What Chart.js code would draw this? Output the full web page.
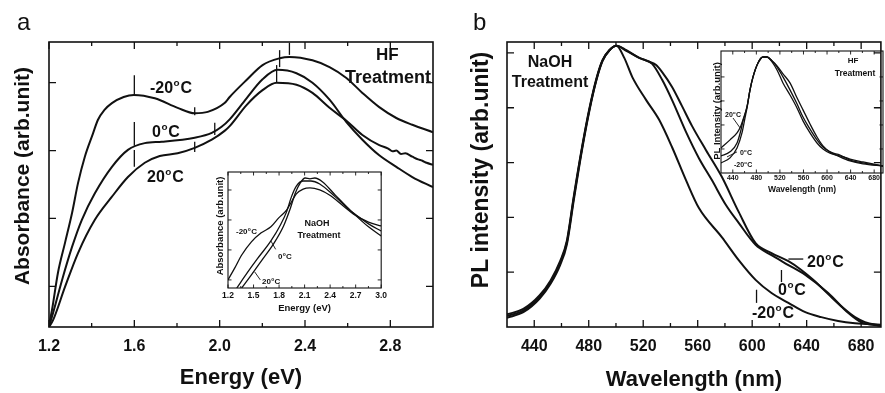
<!DOCTYPE html>
<html><head><meta charset="utf-8">
<script src="https://cdn.jsdelivr.net/npm/chart.js@4.4.1/dist/chart.umd.min.js"></script>
<style>
html,body{margin:0;padding:0;background:#fff;}
#wrap{position:relative;width:885px;height:393px;overflow:hidden;background:#fff;}
canvas{position:absolute;}
</style></head><body>
<div id="wrap">
<canvas id="ca" width="442" height="393" style="left:0;top:0;width:442px;height:393px"></canvas>
<canvas id="cb" width="443" height="393" style="left:442px;top:0;width:443px;height:393px"></canvas>
<canvas id="cia" width="185" height="150" style="left:205px;top:165px;width:185px;height:150px"></canvas>
<canvas id="cib" width="190" height="158" style="left:695px;top:44px;width:190px;height:158px"></canvas>
</div>
<script>
// ---------- Panel a : absorbance vs energy (HF treatment) ----------
const absEnergyTicks = [1.2, 1.6, 2.0, 2.4, 2.8];
const absEnergyMinor = [1.4, 1.8, 2.2, 2.6];
const absYTicks = [0.6, 1.6, 2.6, 3.6];
const absHF_m20 = [[1.200,0.03],[1.214,0.25],[1.242,0.80],[1.275,1.24],[1.308,1.68],[1.336,2.12],[1.368,2.51],[1.406,2.85],[1.429,3.05],[1.460,3.20],[1.495,3.30],[1.550,3.39],[1.598,3.42],[1.696,3.37],[1.803,3.23],[1.883,3.15],[1.944,3.17],[2.023,3.30],[2.047,3.39],[2.126,3.64],[2.201,3.86],[2.281,3.96],[2.327,3.98],[2.435,3.93],[2.515,3.83],[2.594,3.67],[2.669,3.45],[2.748,3.24],[2.828,3.08],[2.903,2.98],[3.000,2.87]];
const absHF_0 = [[1.200,0.01],[1.214,0.15],[1.261,0.69],[1.308,1.18],[1.354,1.58],[1.415,1.97],[1.495,2.36],[1.570,2.61],[1.649,2.71],[1.729,2.73],[1.883,2.79],[1.963,2.86],[2.009,2.95],[2.047,3.06],[2.126,3.37],[2.201,3.65],[2.271,3.79],[2.360,3.74],[2.435,3.60],[2.515,3.35],[2.594,3.02],[2.669,2.76],[2.748,2.53],[2.828,2.36],[2.903,2.21],[3.000,2.06]];
const absHF_20 = [[1.200,0.00],[1.219,0.10],[1.275,0.59],[1.336,1.09],[1.415,1.58],[1.495,1.92],[1.570,2.21],[1.649,2.42],[1.719,2.52],[1.803,2.56],[1.883,2.64],[1.963,2.76],[2.023,2.89],[2.047,2.96],[2.126,3.27],[2.201,3.49],[2.267,3.60],[2.360,3.57],[2.435,3.45],[2.515,3.23],[2.594,3.04],[2.669,2.83],[2.748,2.68],[2.790,2.63],[2.810,2.59],[2.828,2.60],[2.850,2.55],[2.870,2.56],[2.903,2.51],[2.930,2.47],[2.950,2.45],[2.970,2.42],[3.000,2.39]];
// peak / valley marker strokes: [energy, y from, y to]
const absMarkers = [[1.6,3.42,3.71],[1.6,2.67,3.02],[1.6,2.36,2.61],[1.883,3.12,3.24],[1.883,2.58,2.73],[1.977,2.83,3.01],[2.281,3.83,4.08],[2.267,3.61,3.86],[2.327,4.01,4.19]];

// ---------- Panel b : PL intensity vs wavelength (NaOH treatment) ----------
const plWaveTicks = [440, 480, 520, 560, 600, 640, 680];
const plWaveMinor = [460, 500, 540, 580, 620, 660];
const plYTicks = [1, 2, 3, 4, 5];
const plNaOH_m20 = [[420.0,0.23],[432.0,0.33],[444.0,0.58],[452.0,0.85],[459.0,1.20],[464.0,1.58],[469.0,2.38],[475.0,3.27],[480.6,4.00],[485.7,4.54],[490.1,4.87],[495.2,5.05],[500.3,5.13],[506.1,4.91],[512.0,4.56],[522.2,4.14],[531.7,3.78],[541.2,3.28],[551.4,2.68],[560.9,2.17],[577.7,1.64],[590.1,1.22],[602.5,0.86],[614.2,0.62],[626.6,0.44],[639.0,0.27],[650.7,0.18],[663.1,0.11],[675.5,0.07],[694.5,0.04]];
const plNaOH_0 = [[420.0,0.20],[432.0,0.30],[444.0,0.55],[452.0,0.82],[459.0,1.17],[464.0,1.55],[469.0,2.35],[475.0,3.25],[480.6,3.98],[485.7,4.52],[490.1,4.86],[495.2,5.05],[500.3,5.13],[507.6,5.04],[517.1,4.91],[526.6,4.80],[533.9,4.51],[541.2,4.14],[551.4,3.56],[560.9,3.08],[570.4,2.68],[580.6,2.23],[590.1,1.90],[602.5,1.50],[614.2,1.31],[626.6,1.13],[639.0,0.95],[655.8,0.62],[670.4,0.26],[679.9,0.09],[694.5,0.02]];
const plNaOH_20 = [[420.0,0.17],[432.0,0.27],[444.0,0.52],[452.0,0.79],[459.0,1.13],[464.0,1.51],[469.0,2.31],[475.0,3.22],[480.6,3.96],[485.7,4.51],[490.1,4.85],[495.2,5.05],[500.3,5.13],[507.6,5.05],[517.1,4.91],[524.4,4.84],[529.5,4.78],[533.9,4.65],[541.2,4.38],[548.5,4.03],[555.8,3.67],[566.0,3.23],[577.7,2.74],[590.1,2.10],[602.5,1.53],[614.2,1.35],[626.6,1.20],[636.1,1.04],[644.8,0.86],[655.8,0.60],[666.7,0.35],[675.5,0.18],[682.8,0.09],[694.5,0.02]];
// label leader strokes: [[x1,y1],[x2,y2]]
const plLeaders = [[[626.6,1.24],[637.5,1.24]],[[621.5,0.82],[621.5,1.04]],[[603.2,0.44],[603.2,0.68]]];

// ---------- Inset of a : absorbance (NaOH treatment) ----------
const insEnergyTicks = [1.2, 1.5, 1.8, 2.1, 2.4, 2.7, 3.0];
const insEnergyMinor = [1.35, 1.65, 1.95, 2.25, 2.55, 2.85];
const insAbsYTicks = [0, 1, 2, 3];
const insNaOH_m20 = [[1.200,0.00],[1.280,0.40],[1.361,0.83],[1.475,1.27],[1.590,1.57],[1.704,1.77],[1.796,2.07],[1.888,2.33],[1.945,2.60],[2.003,2.87],[2.083,3.03],[2.163,3.07],[2.278,3.00],[2.392,2.83],[2.541,2.50],[2.690,2.17],[2.851,1.93],[3.000,1.80]];
const insNaOH_0 = [[1.303,-0.27],[1.429,0.25],[1.544,0.70],[1.704,1.30],[1.819,1.85],[1.888,2.27],[1.945,2.77],[2.003,3.13],[2.083,3.30],[2.175,3.30],[2.278,3.20],[2.461,2.77],[2.656,2.27],[2.851,1.87],[3.000,1.63]];
const insNaOH_20 = [[1.361,-0.27],[1.475,0.17],[1.601,0.67],[1.739,1.22],[1.853,1.80],[1.934,2.40],[1.991,2.90],[2.048,3.23],[2.106,3.40],[2.163,3.37],[2.220,3.40],[2.312,3.27],[2.461,2.83],[2.656,2.27],[2.851,1.77],[3.000,1.47]];
const insAbsLeaders = [[[1.704,1.30],[1.76,1.02]],[[1.513,0.27],[1.58,0.0]]];

// ---------- Inset of b : PL intensity (HF treatment) ----------
const insWaveTicks = [440, 480, 520, 560, 600, 640, 680];
const insWaveMinor = [460, 500, 540, 580, 620, 660];
const insPLYTicks = [1, 2, 3, 4];
const insHF_20 = [[420,1.04],[435.3,1.38],[447.2,1.67],[452.3,1.88],[457.3,2.21],[464.1,2.75],[469.2,3.46],[474.3,4.00],[482.8,4.58],[491.3,4.83],[498.1,4.83],[506.6,4.67],[515.1,4.46],[525.2,4.13],[537.1,3.75],[549.0,3.13],[559.2,2.63],[571.1,2.04],[583.0,1.50],[593.1,1.13],[605.0,0.88],[622.0,0.75],[639.0,0.54],[661.0,0.42],[695.0,0.29]];
const insHF_0 = [[420,0.71],[435.3,0.88],[447.2,1.25],[453.9,1.79],[457.3,2.17],[464.1,2.75],[469.2,3.46],[474.3,4.00],[482.8,4.58],[491.3,4.83],[498.1,4.83],[506.6,4.67],[515.1,4.42],[525.2,4.00],[537.1,3.46],[549.0,2.88],[559.2,2.33],[571.1,1.83],[583.0,1.38],[593.1,1.08],[605.0,0.88],[622.0,0.67],[639.0,0.50],[661.0,0.38],[695.0,0.29]];
const insHF_m20 = [[420,0.42],[435.3,0.63],[447.2,1.04],[455.6,1.67],[460.7,2.29],[464.1,2.70],[469.2,3.44],[474.3,3.98],[482.8,4.58],[491.3,4.83],[498.1,4.83],[506.6,4.63],[515.1,4.29],[525.2,3.75],[537.1,3.25],[549.0,2.71],[559.2,2.17],[571.1,1.67],[583.0,1.25],[593.1,1.00],[605.0,0.83],[622.0,0.71],[639.0,0.58],[661.0,0.46],[695.0,0.29]];
const insPLLeaders = [[[440.4,2.29],[452.3,1.88]],[[430.2,0.67],[447.2,0.88]]];

// ---------- drawing helpers ----------
const FAM = "'Liberation Sans', Arial, Helvetica, sans-serif";
const INK = '#111';
const pts = arr => arr.map(([x, y]) => ({x, y}));
const curve = (arr, w) => ({data: pts(arr), borderColor: INK, borderWidth: w, pointRadius: 0, fill: false, cubicInterpolationMode: 'monotone'});
const seg = (a, b, w) => ({data: pts([a, b]), borderColor: INK, borderWidth: w, pointRadius: 0, fill: false, tension: 0});

function drawTemp(ctx, num, x, y, size) {
  const f = s => `bold ${s}px ${FAM}`;
  ctx.textAlign = 'left'; ctx.textBaseline = 'alphabetic';
  ctx.font = f(size); const w1 = ctx.measureText(num).width; ctx.fillText(num, x, y);
  ctx.font = f(size * 0.62); const w2 = ctx.measureText('o').width;
  ctx.fillText('o', x + w1 + size * 0.03, y - size * 0.42);
  ctx.font = f(size); ctx.fillText('C', x + w1 + w2 + size * 0.08, y);
}

const DECO = {};
const deco = {
  id: 'deco',
  afterDatasetsDraw(chart) {
    const o = DECO[chart.canvas.id];
    const {ctx, chartArea: a} = chart;
    const xs = chart.scales.x, ys = chart.scales.y;
    ctx.save();
    ctx.strokeStyle = INK;
    ctx.lineWidth = o.tickW;
    ctx.beginPath();
    const tx = (arr, len) => arr.forEach(v => { const p = xs.getPixelForValue(v);
      ctx.moveTo(p, a.bottom); ctx.lineTo(p, a.bottom - len); ctx.moveTo(p, a.top); ctx.lineTo(p, a.top + len); });
    const ty = (arr, len) => arr.forEach(v => { const p = ys.getPixelForValue(v);
      ctx.moveTo(a.left, p); ctx.lineTo(a.left + len, p); ctx.moveTo(a.right, p); ctx.lineTo(a.right - len, p); });
    tx(o.xMajor, o.maj); tx(o.xMinor, o.min); ty(o.yMajor, o.maj);
    ctx.stroke();
    ctx.lineWidth = o.frameW;
    ctx.strokeRect(a.left, a.top, a.right - a.left, a.bottom - a.top);
    ctx.restore();
  },
  afterDraw(chart) {
    const o = DECO[chart.canvas.id];
    const {ctx, chartArea: a} = chart;
    ctx.save();
    ctx.fillStyle = INK;
    o.texts.forEach(t => {
      ctx.save();
      if (t.clip) { ctx.beginPath(); ctx.rect(a.left, a.top, a.right - a.left, a.bottom - a.top); ctx.clip(); }
      if (t.temp !== undefined) { drawTemp(ctx, t.temp, t.x, t.y, t.size); ctx.restore(); return; }
      ctx.font = `${t.weight || 'bold'} ${t.size}px ${FAM}`;
      if (t.rot) {
        ctx.translate(t.x, t.y); ctx.rotate(-Math.PI / 2);
        ctx.textAlign = 'center'; ctx.textBaseline = 'middle';
        ctx.fillText(t.text, 0, 0);
      } else {
        ctx.textAlign = t.align || 'left'; ctx.textBaseline = 'alphabetic';
        ctx.fillText(t.text, t.x, t.y);
      }
      ctx.restore();
    });
    ctx.restore();
  }
};

function xAxis(c) {
  return { type: 'linear', min: c.min, max: c.max,
    afterBuildTicks: s => { s.ticks = c.ticks.map(v => ({value: v})); },
    ticks: { color: INK, font: {family: FAM, size: c.size, weight: 'bold'}, padding: c.pad, maxRotation: 0, minRotation: 0, autoSkip: false,
      callback: v => c.dec ? Number(v).toFixed(c.dec) : String(v) },
    grid: {display: false, drawTicks: false}, border: {display: false},
    title: {display: true, text: c.title, color: INK, font: {family: FAM, size: c.tsize, weight: 'bold'}, padding: {top: 0, bottom: c.tpad}},
    afterFit: s => { s.height = c.height; } };
}
function yAxis(c) {
  return { type: 'linear', min: c.min, max: c.max, ticks: {display: false},
    grid: {display: false, drawTicks: false}, border: {display: false},
    afterFit: s => { s.width = c.width; } };
}
function make(id, datasets, scales, padding) {
  return new Chart(document.getElementById(id), {
    type: 'line',
    data: {datasets},
    options: { responsive: false, animation: false, devicePixelRatio: 1, events: [],
      layout: {padding},
      plugins: {legend: {display: false}, tooltip: {enabled: false}},
      scales },
    plugins: [deco]
  });
}

// ---------- panel a ----------
DECO.ca = { frameW: 1.6, tickW: 1.3, maj: 7, min: 4,
  xMajor: absEnergyTicks, xMinor: absEnergyMinor, yMajor: absYTicks,
  texts: [
    {text: 'a', x: 17, y: 30, size: 24, weight: 'normal'},
    {text: 'Absorbance (arb.unit)', x: 23, y: 176, size: 21, rot: true},
    {temp: '-20', x: 150, y: 93, size: 16},
    {temp: '0', x: 152, y: 137, size: 16},
    {temp: '20', x: 147, y: 182, size: 16},
    {text: 'HF', x: 376, y: 60, size: 17},
    {text: 'Treatment', x: 345, y: 83, size: 18, clip: true}
  ]};
make('ca',
  [curve(absHF_m20, 2), curve(absHF_0, 2), curve(absHF_20, 2), ...absMarkers.map(m => seg([m[0], m[1]], [m[0], m[2]], 1.3))],
  { x: xAxis({min: 1.2, max: 3.0, ticks: absEnergyTicks, dec: 1, size: 16, pad: 10.4, title: 'Energy (eV)', tsize: 22, tpad: 1.8, height: 66}),
    y: yAxis({min: 0, max: 4.2, width: 49}) },
  {left: 0, top: 42, right: 9, bottom: 0});

// ---------- panel b ----------
DECO.cb = { frameW: 1.6, tickW: 1.3, maj: 7, min: 4,
  xMajor: plWaveTicks, xMinor: plWaveMinor, yMajor: plYTicks,
  texts: [
    {text: 'b', x: 31, y: 30, size: 24, weight: 'normal'},
    {text: 'PL intensity (arb.unit)', x: 40, y: 170, size: 23, rot: true},
    {text: 'NaOH', x: 108, y: 67, size: 16, align: 'center'},
    {text: 'Treatment', x: 108, y: 87, size: 16, align: 'center'},
    {temp: '20', x: 365, y: 267, size: 16},
    {temp: '0', x: 336, y: 295, size: 16},
    {temp: '-20', x: 310, y: 318, size: 16}
  ]};
make('cb',
  [curve(plNaOH_m20, 2), curve(plNaOH_0, 2), curve(plNaOH_20, 2), ...plLeaders.map(l => seg(l[0], l[1], 1.3))],
  { x: xAxis({min: 420, max: 694.5, ticks: plWaveTicks, dec: 0, size: 16, pad: 10.4, title: 'Wavelength (nm)', tsize: 22, tpad: 0, height: 66}),
    y: yAxis({min: 0, max: 5.2, width: 65}) },
  {left: 0, top: 42, right: 2, bottom: 0});

// ---------- inset a ----------
DECO.cia = { frameW: 1.1, tickW: 0.9, maj: 3.5, min: 2,
  xMajor: insEnergyTicks, xMinor: insEnergyMinor, yMajor: insAbsYTicks,
  texts: [
    {text: 'Absorbance (arb.unit)', x: 15, y: 61, size: 9.5, rot: true},
    {temp: '-20', x: 31, y: 69, size: 8},
    {temp: '0', x: 73, y: 94, size: 8},
    {temp: '20', x: 57, y: 119, size: 8},
    {text: 'NaOH', x: 112, y: 61, size: 9, align: 'center'},
    {text: 'Treatment', x: 114, y: 73, size: 9, align: 'center'}
  ]};
make('cia',
  [curve(insNaOH_m20, 1.3), curve(insNaOH_0, 1.3), curve(insNaOH_20, 1.3), ...insAbsLeaders.map(l => seg(l[0], l[1], 0.9))],
  { x: xAxis({min: 1.2, max: 3.0, ticks: insEnergyTicks, dec: 1, size: 8.5, pad: 2.9, title: 'Energy (eV)', tsize: 9.5, tpad: 1.3, height: 27}),
    y: yAxis({min: -0.27, max: 3.6, width: 23}) },
  {left: 0, top: 7, right: 5, bottom: 0});

// ---------- inset b ----------
DECO.cib = { frameW: 1.1, tickW: 0.9, maj: 3.5, min: 2,
  xMajor: insWaveTicks, xMinor: insWaveMinor, yMajor: insPLYTicks,
  texts: [
    {text: 'PL Intensity (arb.unit)', x: 22, y: 67, size: 9.5, rot: true},
    {temp: '20', x: 30, y: 73, size: 7},
    {temp: '0', x: 45, y: 111, size: 7},
    {temp: '-20', x: 39, y: 123, size: 7},
    {text: 'HF', x: 158, y: 19, size: 8, align: 'center'},
    {text: 'Treatment', x: 160, y: 32, size: 8.5, align: 'center'}
  ]};
make('cib',
  [curve(insHF_m20, 1.3), curve(insHF_0, 1.3), curve(insHF_20, 1.3), ...insPLLeaders.map(l => seg(l[0], l[1], 0.9))],
  { x: xAxis({min: 420, max: 695, ticks: insWaveTicks, dec: 0, size: 7, pad: 1.3, title: 'Wavelength (nm)', tsize: 8.5, tpad: 6.9, height: 29}),
    y: yAxis({min: 0, max: 5.08, width: 26}) },
  {left: 0, top: 7, right: 2, bottom: 0});
</script>
</body></html>
